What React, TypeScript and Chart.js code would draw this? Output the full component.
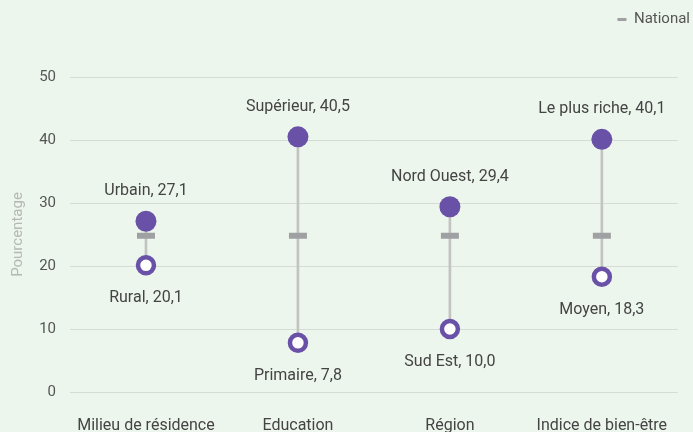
import React, { useEffect, useRef } from 'react';
import { Chart, registerables } from 'chart.js';

Chart.register(...registerables);

const categories = ['Milieu de résidence', 'Education', 'Région', 'Indice de bien-être'];
const highValues = [27.1, 40.5, 29.4, 40.1];
const lowValues = [20.1, 7.8, 10.0, 18.3];
const highLabels = ['Urbain', 'Supérieur', 'Nord Ouest', 'Le plus riche'];
const lowLabels = ['Rural', 'Primaire', 'Sud Est', 'Moyen'];
const nationalValues = [24.8, 24.8, 24.8, 24.8];
const yMin = 0;
const yMax = 50;
const yStep = 10;

const FONT = "Roboto, 'Liberation Sans', sans-serif";
const PURPLE = '#6951A8';
const GREY = '#9FA0A2';
const BG = '#EDF6EC';

const fmt = (v: number) => v.toFixed(1).replace('.', ',');

const labelPlugin = {
  id: 'dumbbellLabels',
  afterDatasetsDraw(chart: any) {
    const ctx = chart.ctx;
    const xs = chart.scales.x;
    const ys = chart.scales.y;
    ctx.save();
    ctx.font = `16px ${FONT}`;
    ctx.fillStyle = '#444444';
    ctx.textAlign = 'center';
    ctx.textBaseline = 'middle';
    categories.forEach((_, i) => {
      const x = xs.getPixelForValue(i);
      const yh = ys.getPixelForValue(highValues[i]);
      const yl = ys.getPixelForValue(lowValues[i]);
      ctx.fillText(`${highLabels[i]}, ${fmt(highValues[i])}`, x, yh - 30);
      ctx.fillText(`${lowLabels[i]}, ${fmt(lowValues[i])}`, x, yl + 33);
    });
    ctx.restore();
  },
};

const bgPlugin = {
  id: 'bg',
  beforeDraw(chart: any) {
    const ctx = chart.ctx;
    ctx.save();
    ctx.fillStyle = BG;
    ctx.fillRect(0, 0, chart.width, chart.height);
    ctx.restore();
  },
};

export default function App() {
  const ref = useRef<HTMLCanvasElement | null>(null);
  useEffect(() => {
    if (!ref.current) return;
    const chart = new Chart(ref.current, {
      type: 'bar',
      data: {
        labels: categories,
        datasets: [
          {
            type: 'scatter' as any,
            label: 'high',
            data: highValues.map((v, i) => ({ x: i, y: v })) as any,
            backgroundColor: PURPLE,
            borderColor: PURPLE,
            pointRadius: 10.5,
            pointHoverRadius: 10.5,
            borderWidth: 0,
            order: 0,
          },
          {
            type: 'scatter' as any,
            label: 'low',
            data: lowValues.map((v, i) => ({ x: i, y: v })) as any,
            backgroundColor: '#FFFFFF',
            borderColor: PURPLE,
            pointRadius: 8,
            pointHoverRadius: 8,
            borderWidth: 4.5,
            order: 1,
          },
          {
            type: 'line' as any,
            label: 'National',
            data: nationalValues as any,
            showLine: false,
            pointStyle: 'line',
            pointRadius: 9,
            pointHoverRadius: 9,
            borderWidth: 6,
            borderColor: GREY,
            backgroundColor: GREY,
            order: 2,
          },
          {
            type: 'bar',
            label: 'range',
            data: highValues.map((v, i) => [lowValues[i], v]) as any,
            backgroundColor: '#C2C4C2',
            barThickness: 2,
            grouped: false,
            order: 3,
          } as any,
        ],
      },
      options: {
        animation: false,
        responsive: false,
        maintainAspectRatio: false,
        layout: { padding: { top: 9, right: 0, left: 0, bottom: 0 } },
        plugins: {
          tooltip: { enabled: false },
          legend: {
            display: true,
            position: 'top',
            align: 'end',
            labels: {
              font: { family: FONT, size: 15 },
              color: '#555555',
              boxWidth: 9,
              boxHeight: 3,
              padding: 3,
              generateLabels: () => [
                {
                  text: 'National',
                  fillStyle: GREY,
                  strokeStyle: GREY,
                  lineWidth: 0,
                  hidden: false,
                  datasetIndex: 2,
                  fontColor: '#555555',
                } as any,
              ],
            },
          },
        },
        scales: {
          x: {
            type: 'category',
            offset: true,
            grid: { display: false, drawTicks: false },
            border: { display: false },
            ticks: {
              color: '#444444',
              font: { family: FONT, size: 16 },
              padding: 24,
              maxRotation: 0,
              autoSkip: false,
            },
            afterFit: (s: any) => {
              s.height = 40;
            },
          },
          xTop: {
            type: 'category',
            position: 'top',
            display: true,
            grid: { display: false, drawTicks: false },
            border: { display: false },
            ticks: { display: false },
            afterFit: (s: any) => {
              s.height = 40;
            },
          },
          y: {
            min: yMin,
            max: yMax,
            grid: { color: '#D6DBD4', lineWidth: 1, drawTicks: false },
            border: { display: false },
            ticks: {
              stepSize: yStep,
              color: '#555555',
              font: { family: FONT, size: 15 },
              padding: 14,
            },
            title: {
              display: true,
              text: 'Pourcentage',
              color: '#B5B8B4',
              font: { family: FONT, size: 15 },
              padding: { top: 9, bottom: 0 },
            },
            afterFit: (s: any) => {
              s.width = 70;
            },
          },
          y2: {
            position: 'right',
            display: true,
            grid: { display: false, drawTicks: false },
            border: { display: false },
            ticks: { display: false },
            afterFit: (s: any) => {
              s.width = 6;
            },
          },
        },
      } as any,
      plugins: [bgPlugin, labelPlugin],
    });
    return () => chart.destroy();
  }, []);
  return (
    <div style={{ position: 'fixed', left: 0, top: 0, width: 693, height: 432, background: BG }}>
      <canvas ref={ref} width={693} height={432} style={{ display: 'block', width: 693, height: 432 }} />
    </div>
  );
}
